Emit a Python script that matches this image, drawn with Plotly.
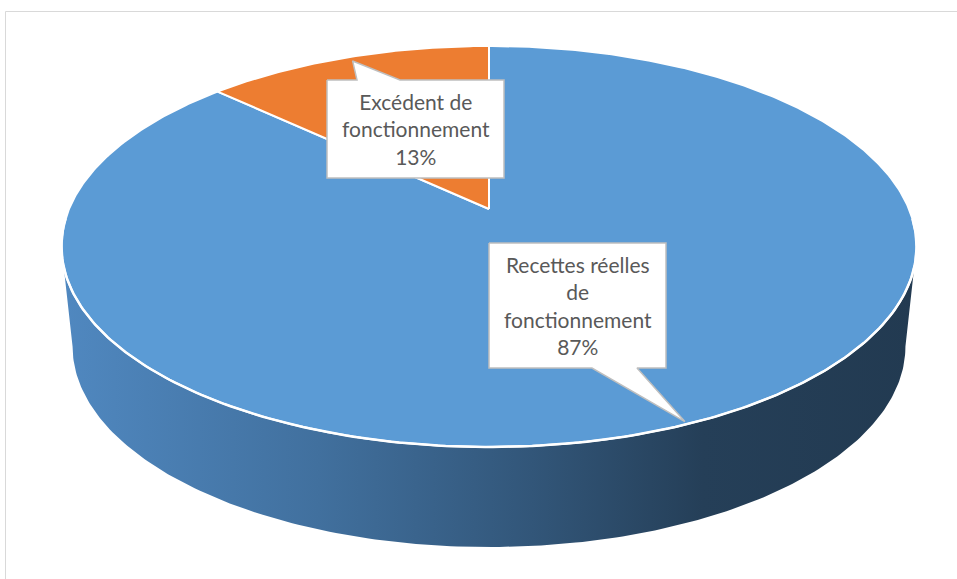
import numpy as np
import plotly.graph_objects as go

# ---- data ----
labels = ["Recettes réelles<br>de<br>fonctionnement", "Excédent de<br>fonctionnement"]
values = [87, 13]
colors = ["#5B9BD5", "#ED7D31"]

W, H = 957, 579
# projection geometry (pixel space)
cx, cy = 489.0, 209.0      # pie centre on screen
A, B, k = 420.0, 193.5, 0.187
DROP, SB = 100.0, 0.974    # wall height and bottom-rim shrink


def proj(theta_deg, r=1.0, drop=0.0, s=1.0):
    t = np.radians(np.asarray(theta_deg, dtype=float))
    u, v = r * np.sin(t), r * np.cos(t)
    w = 1 + k * v
    return cx + A * s * u / w, cy - B * v / w + drop


fig = go.Figure()

# ---- side wall (front, visible part) ----
tl = np.degrees(np.arccos(-k))           # right extreme angle
th = np.linspace(tl, 360 - tl, 200)
xt, yt = proj(th)
xb, yb = proj(th[::-1], drop=DROP, s=SB)
fig.add_trace(go.Scatter(
    x=np.concatenate([xt, xb, xt[:1]]), y=np.concatenate([yt, yb, yt[:1]]),
    mode="lines", fill="toself", line=dict(width=0, color="rgba(0,0,0,0)"),
    fillgradient=dict(type="horizontal", colorscale=[
        [0.0, "#5088c0"], [0.3, "#41709e"], [0.55, "#325679"],
        [0.75, "#253f58"], [1.0, "#223a51"]]),
    hoverinfo="skip", showlegend=False))

# ---- top face slices ----
total = sum(values)
start = 0.0
for lab, val, col in zip(labels, values, colors):
    span = 360.0 * val / total
    ang = np.linspace(start, start + span, max(int(span * 2), 4))
    xa, ya = proj(ang)
    fig.add_trace(go.Scatter(
        x=np.concatenate([[cx], xa, [cx]]), y=np.concatenate([[cy], ya, [cy]]),
        mode="lines", fill="toself", fillcolor=col,
        line=dict(color="white", width=2), hoverinfo="skip", showlegend=False))
    start += span

# front white rim
xr, yr = proj(np.linspace(tl - 8, 360 - tl + 8, 200))
fig.add_trace(go.Scatter(x=xr, y=yr, mode="lines", line=dict(color="white", width=2.5),
                         hoverinfo="skip", showlegend=False))

# ---- callouts (box + pointer) ----
callouts = [
    dict(box=(489, 666, 243, 368), side="bottom", base=(592, 637), tip_theta=157.0, tip_r=0.99),
    dict(box=(327, 504, 80, 178), side="top", base=(357, 400), tip_theta=337.0, tip_r=0.97),
]
for i, cfg in enumerate(callouts):
    x0, x1, y0, y1 = cfg["box"]
    a, b = cfg["base"]
    tx, ty = proj(cfg["tip_theta"], r=cfg["tip_r"])
    if cfg["side"] == "bottom":
        px = [x0, x1, x1, b, tx, a, x0, x0]
        py = [y0, y0, y1, y1, ty, y1, y1, y0]
    else:
        px = [x0, a, tx, b, x1, x1, x0, x0]
        py = [y0, y0, ty, y0, y0, y1, y1, y0]
    fig.add_trace(go.Scatter(x=px, y=py, mode="lines", fill="toself", fillcolor="white",
                             line=dict(color="#BFBFBF", width=1.5), hoverinfo="skip",
                             showlegend=False))
    txt = f"{labels[i]}<br>{values[i]}%"
    fig.add_annotation(x=(x0 + x1) / 2, y=(y0 + y1) / 2, xref="x", yref="y",
                       text=txt, showarrow=False, align="center",
                       font=dict(family="Lato, Open Sans, sans-serif", size=21, color="#595959"))

# chart area border
fig.add_shape(type="rect", x0=5.5, y0=11.5, x1=990, y1=620, xref="x", yref="y",
              line=dict(color="#D9D9D9", width=1), layer="below")

fig.update_layout(
    width=W, height=H, margin=dict(l=0, r=0, t=0, b=0),
    paper_bgcolor="white", plot_bgcolor="white",
    xaxis=dict(range=[0, W], visible=False, fixedrange=True, domain=[0, 1]),
    yaxis=dict(range=[H, 0], visible=False, fixedrange=True, domain=[0, 1]),
    showlegend=False,
)
fig.write_html("out.html", post_script="document.body.style.margin='0';",
               config={"displayModeBar": False})
